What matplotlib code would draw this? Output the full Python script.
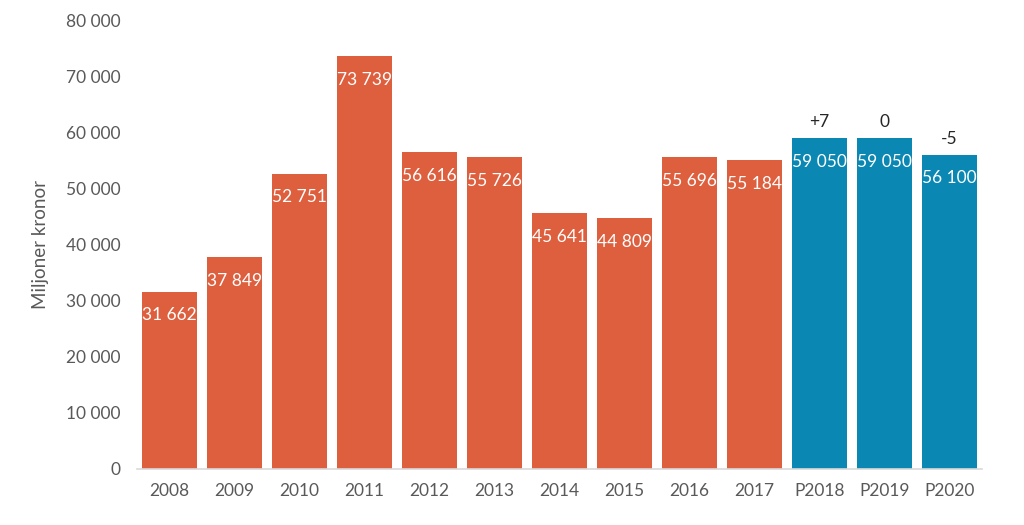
import matplotlib
matplotlib.use("Agg")
import matplotlib.pyplot as plt
from matplotlib.ticker import FuncFormatter

categories = ["2008", "2009", "2010", "2011", "2012", "2013", "2014", "2015", "2016", "2017", "P2018", "P2019", "P2020"]
values = [31662, 37849, 52751, 73739, 56616, 55726, 45641, 44809, 55696, 55184, 59050, 59050, 56100]
forecast = [False]*10 + [True]*3
changes = {10: "+7", 11: "0", 12: "-5"}

orange = "#DE5F3E"
blue = "#0A87B3"

plt.rcParams['font.family'] = ['Lato', 'DejaVu Sans']

fig = plt.figure(figsize=(10.24, 5.25), dpi=100)
ax = fig.add_axes([0.134, 0.1067, 0.825, 0.8533])

x = list(range(len(categories)))
colors = [blue if f else orange for f in forecast]
ax.bar(x, values, width=0.85, color=colors, zorder=2)

def fmt(v):
    return f"{int(v):,}".replace(",", " ")

for i, v in enumerate(values):
    ax.annotate(fmt(v), (i, v), xytext=(0, -17), textcoords="offset points",
                ha="center", va="center", color="white", fontsize=12.5)
for i, t in changes.items():
    ax.annotate(t, (i, values[i]), xytext=(0, 11.5), textcoords="offset points",
                ha="center", va="center", color="#262626", fontsize=12.5)

ax.set_xlim(-0.5, len(categories) - 0.5)
ax.set_ylim(0, 80000)
ax.set_yticks(range(0, 80001, 10000))
ax.yaxis.set_major_formatter(FuncFormatter(lambda v, p: fmt(v)))
ax.set_xticks(x)
ax.set_xticklabels(categories)
ax.tick_params(axis="both", length=0, labelsize=12.5, colors="#595959")
ax.tick_params(axis="y", pad=12)
ax.tick_params(axis="x", pad=10)
for s in ["top", "right", "left"]:
    ax.spines[s].set_visible(False)
ax.spines["bottom"].set_color("#D9D9D9")
ax.spines["bottom"].set_linewidth(1.2)
ax.set_ylabel("Miljoner kronor", fontsize=13.5, color="#595959", labelpad=12)

fig.savefig("out.png", dpi=100)
